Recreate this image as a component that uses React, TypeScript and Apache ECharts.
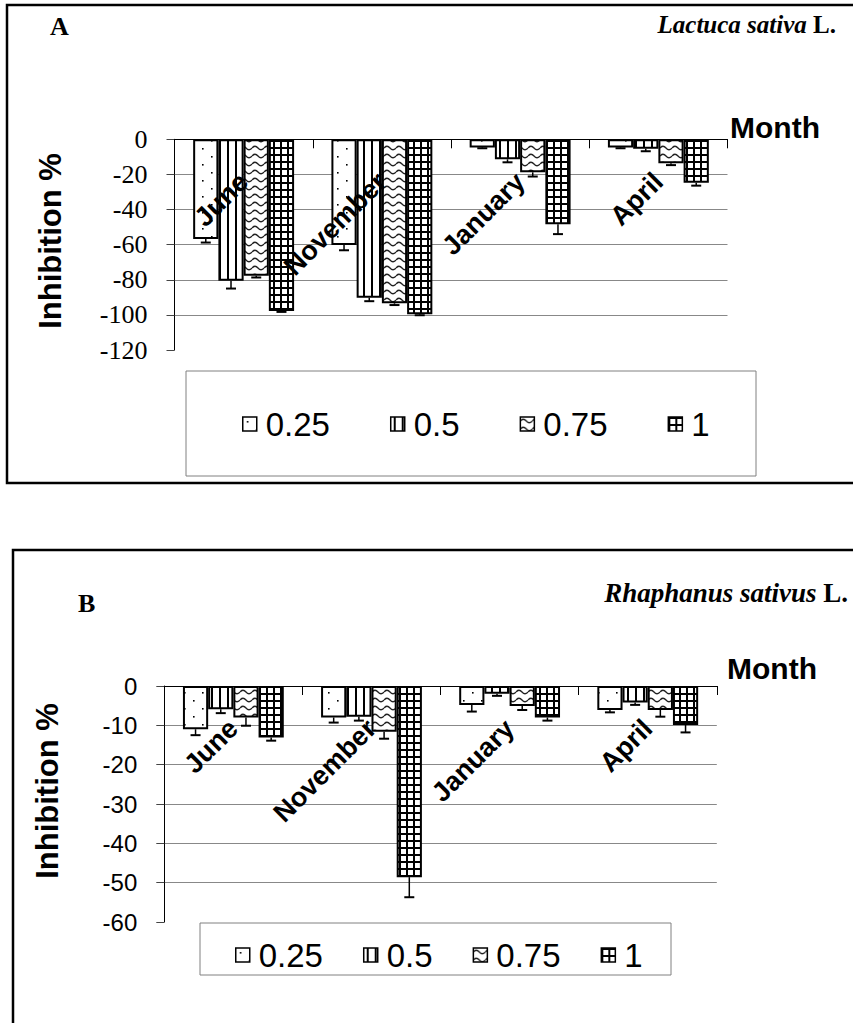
import React, { useEffect, useRef } from "react";
import * as echarts from "echarts";

// ---------- DATA ----------
const months = ["June", "November", "January", "April"];
const concentrations = ["0.25", "0.5", "0.75", "1"];

// Panel A — Lactuca sativa L. (inhibition %, per month)
const lactuca025 = [-56.8, -60.2, -4.6, -4.6];
const lactuca05 = [-80.5, -90.2, -11.4, -5.4];
const lactuca075 = [-77.7, -93.4, -18.8, -13.7];
const lactuca1 = [-97.8, -99.7, -48.4, -24.7];
const lactucaErr025 = [2, 3, 0.5, 0.5];
const lactucaErr05 = [4.5, 2, 1.7, 1.4];
const lactucaErr075 = [1, 1, 2.4, 1];
const lactucaErr1 = [0.5, 0.5, 5.6, 1.7];

// Panel B — Rhaphanus sativus L.
const raphanus025 = [-11, -8, -4.8, -6.1];
const raphanus05 = [-5.9, -7.8, -2, -4.2];
const raphanus075 = [-8, -11.6, -5.1, -6.1];
const raphanus1 = [-13.1, -48.6, -8, -9.9];
const raphanusErr025 = [1.5, 1.3, 1.7, 0.6];
const raphanusErr05 = [1, 1, 0.5, 0.6];
const raphanusErr075 = [2.1, 1.8, 1, 1.7];
const raphanusErr1 = [0.8, 5.1, 0.8, 1.9];

// Tick labels
const yTicksA = [0, -20, -40, -60, -80, -100, -120];
const yTicksB = [0, -10, -20, -30, -40, -50, -60];

const panelValues = [
  [lactuca025, lactuca05, lactuca075, lactuca1],
  [raphanus025, raphanus05, raphanus075, raphanus1],
];
const panelErrors = [
  [lactucaErr025, lactucaErr05, lactucaErr075, lactucaErr1],
  [raphanusErr025, raphanusErr05, raphanusErr075, raphanusErr1],
];

const CAT_GAP = 0.27;

function makePattern(kind: string) {
  const c = document.createElement("canvas");
  let w = 8;
  let h = 8;
  if (kind === "dots") { w = 18; h = 16; }
  else if (kind === "vert") { w = 8; h = 8; }
  else if (kind === "wave") { w = 12; h = 8; }
  else { w = 7; h = 7; }
  c.width = w;
  c.height = h;
  const g = c.getContext("2d")!;
  g.fillStyle = "#fff";
  g.fillRect(0, 0, w, h);
  g.fillStyle = "#000";
  g.strokeStyle = "#000";
  if (kind === "dots") {
    g.fillRect(4, 4, 1.6, 1.6);
    g.fillRect(13, 12, 1.6, 1.6);
  } else if (kind === "vert") {
    g.fillRect(3, 0, 2, h);
  } else if (kind === "wave") {
    g.strokeStyle = "#222";
    g.lineWidth = 1.3;
    g.beginPath();
    g.moveTo(0, 4);
    g.quadraticCurveTo(3, 0.5, 6, 4);
    g.quadraticCurveTo(9, 7.5, 12, 4);
    g.stroke();
  } else {
    g.fillRect(0, 0, w, 2);
    g.fillRect(0, 0, 2, h);
  }
  return { image: c.toDataURL(), repeat: "repeat", imageWidth: w, imageHeight: h };
}

export default function App() {
  const ref = useRef<HTMLDivElement>(null);

  useEffect(() => {
    if (!ref.current) return;
    const chart = echarts.init(ref.current, null, { renderer: "svg" });
    const patterns = [makePattern("dots"), makePattern("vert"), makePattern("wave"), makePattern("grid")];

    const grids = [
      { left: 174.5, top: 139.3, width: 553, height: 210.7, outerBoundsMode: "none", containLabel: false },
      { left: 164.3, top: 686, width: 552.5, height: 236, outerBoundsMode: "none", containLabel: false },
    ];
    const yTicks = [yTicksA, yTicksB];
    const yFonts = [
      { fontFamily: "'Times New Roman', 'Liberation Serif', serif", fontSize: 26 },
      { fontFamily: "Arial, 'Liberation Sans', sans-serif", fontSize: 24 },
    ];

    const xAxis = [0, 1].map((i) => ({
      type: "category",
      gridIndex: i,
      data: months,
      position: "top",
      axisLine: { show: true, onZero: false, lineStyle: { color: "#000", width: 1 } },
      axisTick: { show: true, inside: true, length: 9, interval: 0, lineStyle: { color: "#000" } },
      axisLabel: {
        inside: true,
        interval: 0,
        rotate: -45,
        margin: 38,
        fontFamily: "Arial, 'Liberation Sans', sans-serif",
        fontWeight: "bold",
        fontSize: 27,
        color: "#000",
      },
      splitLine: { show: false },
      z: 10,
    }));

    const yAxis = [0, 1].map((i) => {
      const t = yTicks[i];
      return {
        type: "value",
        gridIndex: i,
        min: Math.min(...t),
        max: Math.max(...t),
        interval: t[0] - t[1],
        axisLine: { show: true, lineStyle: { color: "#000", width: 1 } },
        axisTick: { show: true, length: 8, lineStyle: { color: "#444" } },
        axisLabel: { margin: 27, color: "#000", ...yFonts[i] },
        splitLine: { show: true, showMinLine: false, lineStyle: { color: "#888", width: 1 } },
      };
    });

    const series: any[] = [];
    for (let p = 0; p < 2; p++) {
      for (let s = 0; s < 4; s++) {
        series.push({
          type: "bar",
          name: concentrations[s],
          xAxisIndex: p,
          yAxisIndex: p,
          data: panelValues[p][s],
          barGap: "0%",
          barCategoryGap: CAT_GAP * 100 + "%",
          itemStyle: { color: patterns[s], borderColor: "#000", borderWidth: 2 },
          emphasis: { disabled: true },
          z: 2,
        });
      }
      const errData: number[][] = [];
      for (let s = 0; s < 4; s++) {
        for (let m = 0; m < months.length; m++) {
          errData.push([m, s, panelValues[p][s][m], panelErrors[p][s][m]]);
        }
      }
      series.push({
        type: "custom",
        name: "err" + p,
        xAxisIndex: p,
        yAxisIndex: p,
        data: errData,
        encode: { x: 0, y: 2 },
        z: 5,
        silent: true,
        renderItem: (params: any, api: any) => {
          const m = api.value(0);
          const s = api.value(1);
          const v = api.value(2);
          const e = api.value(3);
          const top = api.coord([m, v]);
          const bot = api.coord([m, v - e]);
          const catW = api.size([1, 0])[0];
          const barW = (catW * (1 - CAT_GAP)) / 4;
          const x = top[0] + (s - 1.5) * barW;
          return {
            type: "group",
            children: [
              { type: "line", shape: { x1: x, y1: top[1], x2: x, y2: bot[1] }, style: { stroke: "#000", lineWidth: 1.5 } },
              { type: "line", shape: { x1: x - 5, y1: bot[1], x2: x + 5, y2: bot[1] }, style: { stroke: "#000", lineWidth: 2 } },
            ],
          };
        },
      });
    }

    const legendBase = {
      data: concentrations,
      orient: "horizontal",
      icon: "rect",
      itemWidth: 14,
      itemHeight: 14,
      padding: 0,
      selectedMode: false,
      itemStyle: { borderWidth: 1.5, borderColor: "#000" },
      textStyle: {
        fontFamily: "Arial, 'Liberation Sans', sans-serif",
        fontSize: 33,
        lineHeight: 36,
        color: "#000",
        padding: [0, 0, 0, 4],
      },
    };

    const serif = "'Times New Roman', 'Liberation Serif', serif";
    const sans = "Arial, 'Liberation Sans', sans-serif";
    const txt = (x: number, y: number, text: string, font: string, align = "left", rotation = 0) => ({
      type: "text",
      x,
      y,
      rotation,
      silent: true,
      style: { text, font, fill: "#000", align, verticalAlign: "middle", textAlign: align, textVerticalAlign: "middle" },
    });
    const species = (x: number, y: number, name: string, size: number) => ({
      type: "text",
      x,
      y,
      silent: true,
      style: {
        text: "{i|" + name + "} {b|L.}",
        font: "bold " + size + "px " + serif,
        fill: "#000",
        align: "right",
        verticalAlign: "middle",
        textAlign: "right",
        textVerticalAlign: "middle",
        rich: {
          i: { fontStyle: "italic", fontWeight: "bold", fontSize: size, fontFamily: serif, fill: "#000" },
          b: { fontWeight: "bold", fontSize: size, fontFamily: serif, fill: "#000" },
        },
      },
    });
    const box = (x: number, y: number, w: number, h: number, stroke: string, lw: number) => ({
      type: "rect",
      silent: true,
      shape: { x, y, width: w, height: h },
      style: { fill: "none", stroke, lineWidth: lw },
      z: -1,
    });

    chart.setOption({
      animation: false,
      backgroundColor: "#fff",
      grid: grids,
      xAxis,
      yAxis,
      legend: [
        { ...legendBase, left: 242, top: 406, itemGap: 60 },
        { ...legendBase, left: 235, top: 937, itemGap: 40 },
      ],
      series,
      graphic: [
        box(7, 5, 900, 478, "#000", 2.5),
        box(13, 550, 900, 600, "#000", 2.5),
        box(186, 371, 570, 105, "#808080", 1),
        box(200, 923, 471, 52, "#808080", 1),
        txt(50, 26, "A", "bold 26px " + serif),
        txt(78, 603, "B", "bold 26px " + serif),
        species(836, 24, "Lactuca sativa", 25),
        species(848, 593, "Rhaphanus sativus", 27),
        txt(775, 127, "Month", "bold 30px " + sans, "center"),
        txt(772, 668, "Month", "bold 30px " + sans, "center"),
        txt(50, 241, "Inhibition %", "bold 31px " + sans, "center", Math.PI / 2),
        txt(47, 791, "Inhibition %", "bold 31px " + sans, "center", Math.PI / 2),
      ],
    });

    return () => chart.dispose();
  }, []);

  return (
    <div
      ref={ref}
      style={{ position: "absolute", left: 0, top: 0, width: 853, height: 1023, background: "#fff" }}
    />
  );
}
